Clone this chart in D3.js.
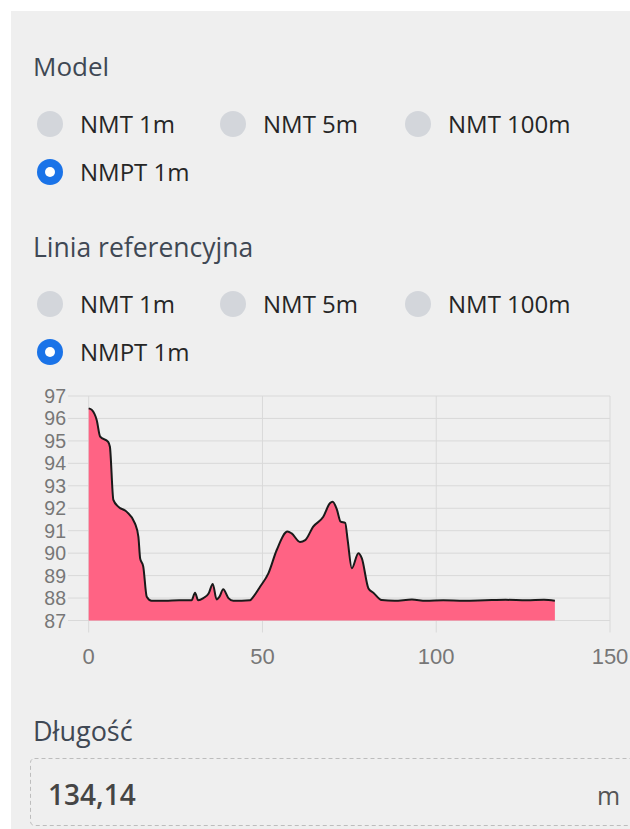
<!DOCTYPE html>
<html>
<head>
<meta charset="utf-8">
<script src="https://cdn.jsdelivr.net/npm/d3@7"></script>
<style>
  html, body { margin: 0; padding: 0; background: #fff; }
  svg { display: block; }
</style>
</head>
<body>
<div id="chart"></div>
<script>
var w = 630,
    h = 829;

// radio groups
var modelOptions = ["NMT 1m", "NMT 5m", "NMT 100m", "NMPT 1m"];
var refOptions = ["NMT 1m", "NMT 5m", "NMT 100m", "NMPT 1m"];
var selectedModel = "NMPT 1m";
var selectedRef = "NMPT 1m";

// profile: distance (m) and height (m)
var distances = [0, 0.9, 2.3, 3.3, 5.6, 6.1, 7.1, 8.5, 10.9, 13.3, 14.3, 14.8, 15.7, 16.7, 18.1,
    22, 26, 29.6, 30.6, 31.5, 33, 34.5, 35.7, 36.8, 37.6, 38.7, 40.2, 41.6, 44, 46.4, 47.4, 49.3,
    51.7, 54.1, 57.2, 58.4, 60.8, 62.3, 64.6, 67.5, 69.4, 70.2, 71.4, 72.5, 73.8, 74.5, 75.7,
    77.6, 78.6, 80.5, 81.9, 84.3, 88, 93, 97, 102, 108, 114, 120, 126, 131, 134.14];
var heights = [96.45, 96.38, 95.93, 95.19, 94.96, 94.74, 92.37, 92.07, 91.85, 91.33, 90.73, 89.77, 89.4, 88.06, 87.88,
    87.88, 87.9, 87.9, 88.24, 87.9, 88.0, 88.2, 88.63, 87.94, 88.05, 88.39, 88.0, 87.88, 87.88, 87.9, 88.06, 88.5,
    89.1, 90.14, 90.96, 90.88, 90.5, 90.58, 91.18, 91.62, 92.22, 92.29, 91.95, 91.4, 91.35, 90.6, 89.33,
    90.0, 89.77, 88.43, 88.24, 87.91, 87.88, 87.93, 87.88, 87.9, 87.88, 87.9, 87.92, 87.9, 87.92, 87.88];

var xTicks = [0, 50, 100, 150];
var yTicks = [87, 88, 89, 90, 91, 92, 93, 94, 95, 96, 97];

var lengthLabel = "Długość";
var lengthValue = "134,14";
var lengthUnit = "m";

var palette = {
    panel: '#efefef',
    heading: '#3f4854',
    label: '#262626',
    radioOff: '#d3d6db',
    radioOn: '#1a73e8',
    fill: '#ff6384',
    grid: '#d9d9d9',
    tick: '#777'
};

var uiFont = "'Open Sans', 'Noto Sans', sans-serif";

var svg = d3.select('#chart')
    .append('svg')
    .attr('width', w)
    .attr('height', h);

svg.append('rect')
    .attr('x', 11).attr('y', 11)
    .attr('width', w - 11).attr('height', h - 11)
    .attr('fill', palette.panel);

function heading(text, y, size) {
    svg.append('text')
        .attr('x', 33).attr('y', y)
        .attr('font-family', uiFont)
        .attr('font-size', size)
        .attr('font-weight', 500)
        .attr('fill', palette.heading)
        .text(text);
}

function radios(options, selected, y0) {
    var pos = [
        { cx: 50, cy: y0 },
        { cx: 233, cy: y0 },
        { cx: 418, cy: y0 },
        { cx: 50, cy: y0 + 48 }
    ];
    var g = svg.append('g');
    var item = g.selectAll('g')
        .data(options).enter()
        .append('g')
        .attr('transform', function(d, i) { return 'translate(' + pos[i].cx + ',' + pos[i].cy + ')' });

    item.append('circle')
        .attr('r', 13)
        .attr('fill', function(d) { return d === selected ? palette.radioOn : palette.radioOff });

    item.filter(function(d) { return d === selected })
        .append('circle')
        .attr('r', 5)
        .attr('fill', '#fff');

    item.append('text')
        .attr('x', 30)
        .attr('y', 8.5)
        .attr('font-family', uiFont)
        .attr('font-size', 24)
        .attr('fill', palette.label)
        .text(function(d) { return d });
}

heading('Model', 76, 26);
radios(modelOptions, selectedModel, 124);
heading('Linia referencyjna', 257, 26.5);
radios(refOptions, selectedRef, 304);

// elevation chart
var x = d3.scaleLinear().domain([0, 150]).range([88.7, 610]);
var y = d3.scaleLinear().domain([87, 97]).range([620.5, 396]);

var chart = svg.append('g');

chart.selectAll('line.hgrid')
    .data(yTicks).enter().append('line')
    .attr('class', 'hgrid')
    .attr('x1', 68).attr('x2', x(150))
    .attr('y1', function(d) { return y(d) })
    .attr('y2', function(d) { return y(d) })
    .attr('stroke', palette.grid);

chart.selectAll('line.vgrid')
    .data(xTicks).enter().append('line')
    .attr('class', 'vgrid')
    .attr('x1', function(d) { return x(d) })
    .attr('x2', function(d) { return x(d) })
    .attr('y1', y(97)).attr('y2', y(87) + 12)
    .attr('stroke', palette.grid);

var profile = distances.map(function(d, i) { return { d: d, h: heights[i] } });

var area = d3.area()
    .x(function(p) { return x(p.d) })
    .y0(y(87))
    .y1(function(p) { return y(p.h) })
    .curve(d3.curveMonotoneX);

var line = d3.line()
    .x(function(p) { return x(p.d) })
    .y(function(p) { return y(p.h) })
    .curve(d3.curveMonotoneX);

chart.append('path')
    .datum(profile)
    .attr('d', area)
    .attr('fill', palette.fill);

chart.append('path')
    .datum(profile)
    .attr('d', line)
    .attr('fill', 'none')
    .attr('stroke', '#1a1a1a')
    .attr('stroke-width', 2)
    .attr('stroke-linejoin', 'round');

chart.selectAll('text.ylab')
    .data(yTicks).enter().append('text')
    .attr('class', 'ylab')
    .attr('x', 66)
    .attr('y', function(d) { return y(d) + 7 })
    .attr('text-anchor', 'end')
    .attr('font-family', "'Liberation Sans', Arial, sans-serif")
    .attr('font-size', 19.5)
    .attr('fill', palette.tick)
    .text(function(d) { return d });

chart.selectAll('text.xlab')
    .data(xTicks).enter().append('text')
    .attr('class', 'xlab')
    .attr('x', function(d) { return x(d) })
    .attr('y', 664)
    .attr('text-anchor', 'middle')
    .attr('font-family', "'Liberation Sans', Arial, sans-serif")
    .attr('font-size', 22)
    .attr('fill', palette.tick)
    .text(function(d) { return d });

// length field
heading(lengthLabel, 741, 27);

svg.append('rect')
    .attr('x', 30.5).attr('y', 758.5)
    .attr('width', 640).attr('height', 67)
    .attr('rx', 4)
    .attr('fill', 'none')
    .attr('stroke', '#bdbdbd')
    .attr('stroke-dasharray', '4,3');

svg.append('text')
    .attr('x', 48).attr('y', 805)
    .attr('font-family', uiFont)
    .attr('font-size', 28)
    .attr('font-weight', 600)
    .attr('fill', '#454545')
    .text(lengthValue);

svg.append('text')
    .attr('x', 597).attr('y', 805)
    .attr('font-family', uiFont)
    .attr('font-size', 25)
    .attr('fill', '#555')
    .text(lengthUnit);
</script>
</body>
</html>
